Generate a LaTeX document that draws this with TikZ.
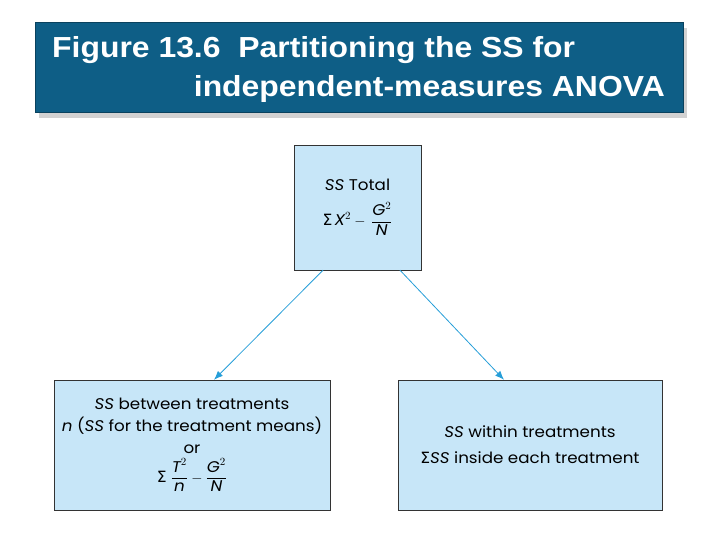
\documentclass[tikz,border=0pt]{standalone}
\usepackage{amsmath}
\usepackage{fontspec}
\setmainfont{Liberation Sans}
\newfontfamily\titlefont[FakeStretch=1.1]{Liberation Sans}
\newfontfamily\boxfont[FakeStretch=1.08]{Poppins}
\newfontfamily\symfont{DejaVu Sans}
\usetikzlibrary{arrows.meta,shadows}

\definecolor{bannerblue}{RGB}{14,94,134}
\definecolor{boxblue}{RGB}{199,230,248}
\definecolor{arrowblue}{RGB}{38,158,216}

% sans letters inside the formulas
\newcommand{\sv}[1]{\text{\itshape #1}}
\newcommand{\sig}{\text{\symfont Σ}}

\begin{document}
\begin{tikzpicture}[x=1pt, y=-1pt,
    banner/.style={fill=bannerblue, draw=bannerblue!70!black, minimum width=648pt, minimum height=90pt, inner sep=0pt,
      drop shadow={shadow xshift=4pt, shadow yshift=-6pt, fill=black!35}},
    title/.style={text=white, font=\titlefont\bfseries\fontsize{29}{32}\selectfont, inner sep=0pt},
    ssbox/.style={draw=black!80, fill=boxblue, align=center, inner sep=0pt, font=\boxfont\fontsize{15.5}{22}\selectfont},
    split/.style={-{Latex[length=9pt, width=7pt]}, arrowblue, line width=0.8pt}
  ]
    \useasboundingbox (0,0) rectangle (720,540);

    % title banner
    \node[banner] (banner) at (359,67) {};
    \node[title, anchor=base west] (line1) at (52,58) {Figure 13.6\ \ Partitioning the SS for};
    \node[title, anchor=base east] (line2) at (665,97) {independent-measures ANOVA};

    % partition boxes
    \node[ssbox, minimum width=127pt, minimum height=125pt] (total) at (357.5,207.5)
      {\textit{SS} Total\\[10pt] $\sig\,\sv{X}^2 - \,\dfrac{\sv{G}^2}{\sv{N}}$};
    \node[ssbox, minimum width=276pt, minimum height=130pt] (between) at (192,445)
      {\textit{SS} between treatments\\ \textit{n} (\textit{SS} for the treatment means)\\ or\\[4pt] $\sig\;\dfrac{\sv{T}^2}{\sv{n}} - \dfrac{\sv{G}^2}{\sv{N}}$};
    \node[ssbox, minimum width=264pt, minimum height=130pt] (within) at (530,445)
      {\textit{SS} within treatments\\[4pt] \sig\textit{SS} inside each treatment};

    \draw[split] (total.south -| 323,0) -- (between.north -| 214,0);
    \draw[split] (total.south -| 400,0) -- (within.north -| 504,0);
  \end{tikzpicture}
\end{document}
